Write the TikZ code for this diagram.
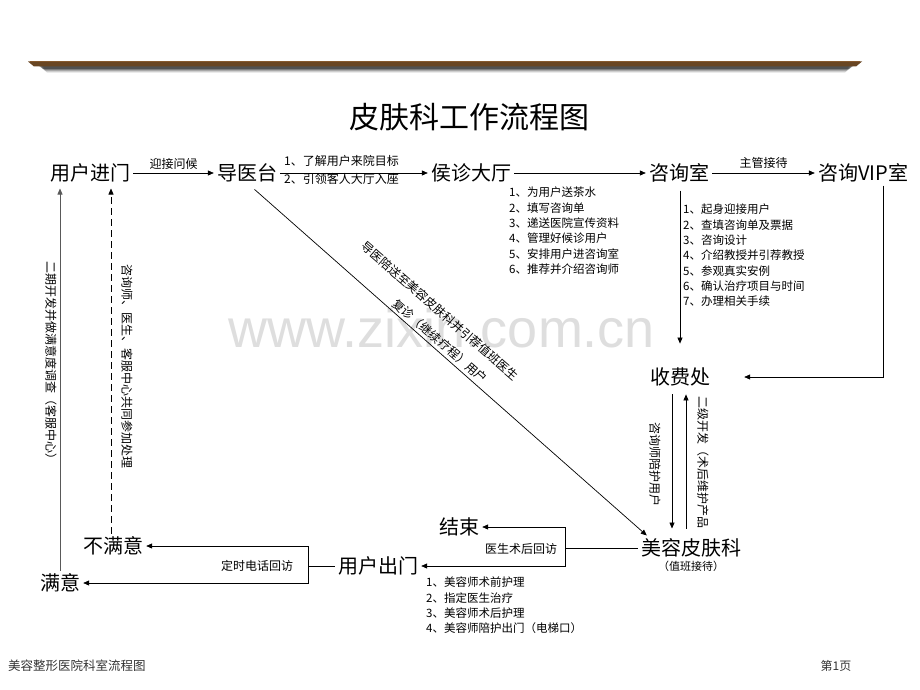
\documentclass[tikz,border=0pt]{standalone}
\usepackage{fontspec}
\setmainfont{Noto Sans CJK SC}
\newfontfamily\wmfont{Liberation Sans}
\usetikzlibrary{arrows.meta,calc}
\tikzset{
  big/.style={font=\fontsize{20}{24}\selectfont, inner sep=3pt},
  lbl/.style={font=\fontsize{12}{14}\selectfont, inner sep=1pt},
  lst/.style={font=\fontsize{11.5}{15.3}\selectfont, inner sep=0pt, align=left, anchor=north west},
  arr/.style={-{Triangle[length=6pt,width=5pt]}, line width=0.7pt},
  ln/.style={line width=0.7pt},
}
\begin{document}
\begin{tikzpicture}[x=1pt,y=-1pt]
\useasboundingbox[fill=white] (0,0) rectangle (920,690);
% watermark
\node[font=\wmfont\fontsize{54}{60}\selectfont, text=black!13] (wm) at (442,328) {www.zixin.com.cn};
% top bar
\foreach \d/\o in {7/0.08,6/0.12,5/0.18,4/0.25,3/0.35}
  \fill[black, opacity=\o] (36+\d,66) -- (856-\d,66) -- (852-\d,66+\d) -- (40+\d,66+\d) -- cycle;
\fill[brown!55!black] (28,61.5) -- (862,61.5) -- (856,66.5) -- (34,66.5) -- cycle;
\draw[brown!70!black, line width=0.6pt] (30,61.8) -- (860,61.8);
% title
\node[font=\fontsize{30}{34}\selectfont] (title) at (469,117) {皮肤科工作流程图};
% main nodes
\node[big] (yhjm) at (90,173) {用户进门};
\node[big] (dyt) at (247,173) {导医台};
\node[big] (hzdt) at (471,173) {侯诊大厅};
\node[big] (zxs) at (679,173) {咨询室};
\node[big] (vip) at (863,173) {咨询VIP室};
\node[big] (sfc) at (680,377) {收费处};
\node[big] (mr) at (691,548) {美容皮肤科};
\node[font=\fontsize{11}{13}\selectfont, inner sep=0pt] (zb) at (691,566) {（值班接待）};
\node[big] (js) at (459,527) {结束};
\node[big] (yhcm) at (378,566) {用户出门};
\node[big] (bmy) at (113,546) {不满意};
\node[big] (my) at (60,583) {满意};
% top row arrows
\draw[arr] (yhjm.east) -- node[lbl, above=2pt] (l0) {迎接问候} (dyt.west);
\draw[arr] (dyt.east) -- (hzdt.west);
\node[lbl, anchor=west] (l1) at (283,161) {1、了解用户来院目标};
\node[lbl, anchor=west] (l2) at (283,179) {2、引领客人大厅入座};
\draw[arr] (hzdt.east) -- (zxs.west);
\draw[arr] (zxs.east) -- node[lbl, above=3pt] (l3) {主管接待} (vip.west);
% lists
\node[lst] (list1) at (509,187) {1、为用户送茶水\\2、填写咨询单\\3、递送医院宣传资料\\4、管理好候诊用户\\5、安排用户进咨询室\\6、推荐并介绍咨询师};
\node[lst] (list2) at (683,204) {1、起身迎接用户\\2、查填咨询单及票据\\3、咨询设计\\4、介绍教授并引荐教授\\5、参观真实安例\\6、确认治疗项目与时间\\7、办理相关手续};
% down to cashier
\draw[arr, shorten <=5pt, shorten >=21pt] ([xshift=1pt]zxs.south) -- ([xshift=1pt]zxs.south |- sfc.north);
\coordinate (vc) at (883,377);
\draw[arr, shorten >=31pt] ([xshift=20pt]vip.south) -- (vc) -- (sfc.east);
% cashier <-> beauty dermatology
\draw[arr, shorten <=5pt, shorten >=7pt] ([xshift=-8pt]sfc.south) -- ([xshift=-8pt]sfc.south |- mr.north);
\draw[arr, shorten <=7pt, shorten >=5pt] ([xshift=6pt]sfc.south |- mr.north) -- ([xshift=6pt]sfc.south);
\node[lbl, rotate=-90] (l4) at (655,464) {咨询师陪护用户};
\node[lbl, rotate=-90] (l5) at (703,462) {二级开发（术后维护产品};
% diagonal
\draw[arr, shorten <=6pt] ([xshift=3pt]dyt.south) -- ([xshift=9pt]mr.north west);
\node[lbl, rotate=-41] (l6) at (440,311) {导医陪送至美容皮肤科并引荐值班医生};
\node[lbl, rotate=-41] (l7) at (440,341) {复诊（继续疗程）用户};
% bottom branches
\coordinate (j1) at (565,548);
\draw[ln] (mr.west) -- (j1);
\draw[arr] (j1) |- (js.east);
\draw[arr] (j1) |- (yhcm.east);
\node[lbl] (l8) at (521,549) {医生术后回访};
\coordinate (j2) at (308,566);
\draw[ln] (yhcm.west) -- (j2);
\draw[arr] (j2) |- (bmy.east);
\draw[arr] (j2) |- (my.east);
\node[lbl] (l9) at (257,566) {定时电话回访};
\node[lst] (list3) at (426,577) {1、美容师术前护理\\2、指定医生治疗\\3、美容师术后护理\\4、美容师陪护出门（电梯口）};
% feedback lines
\draw[arr, black!65, shorten >=3pt] (my.north) -- (my.north |- yhjm.south);
\draw[arr, dashed, dash pattern=on 7pt off 4pt, shorten >=3pt] ([xshift=-2pt]bmy.north) -- ([xshift=-2pt]bmy.north |- yhjm.south);
\node[lbl, rotate=-90] (l10) at (51,363) {二期开发并做满意度调查（客服中心）};
\node[lbl, rotate=-90] (l11) at (127,366) {咨询师、医生、客服中心共同参加处理};
% footer
\node[font=\fontsize{12.5}{14}\selectfont, text=black!80, anchor=west, inner sep=0pt] (foot) at (8,666) {美容整形医院科室流程图};
\node[font=\fontsize{12}{14}\selectfont, text=black!80, inner sep=0pt] (page) at (836,666) {第1页};
\end{tikzpicture}
\end{document}
